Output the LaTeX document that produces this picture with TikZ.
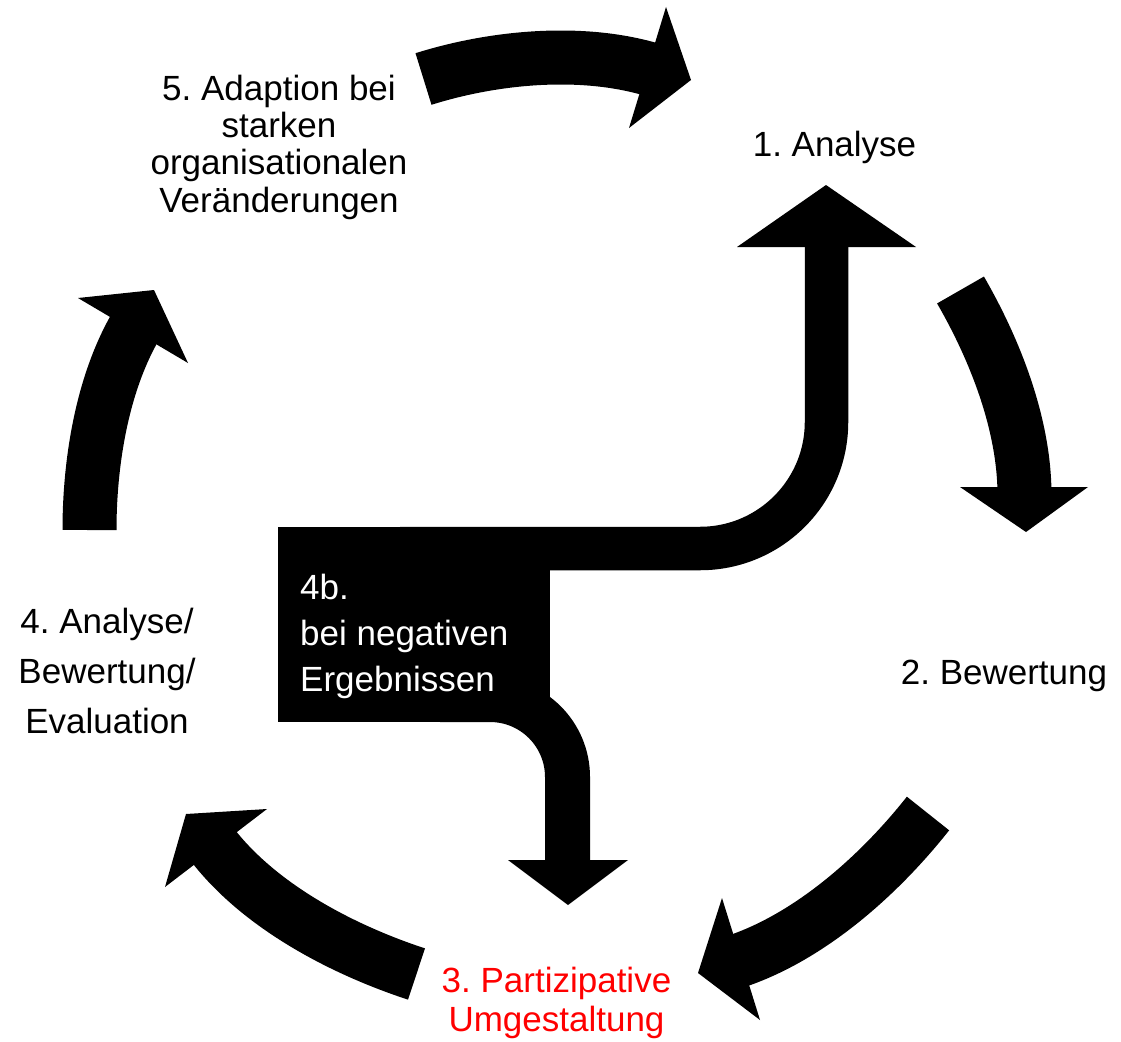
\documentclass[tikz,border=0pt]{standalone}
\usepackage{fontspec}
\setmainfont{Liberation Sans}
\frenchspacing
\begin{document}
\begin{tikzpicture}[x=1pt,y=-1pt,
    lbl/.style={align=center,inner sep=0pt},
    body/.style={line width=54pt},
    band/.style={line width=43.5pt},
    head/.style={fill=black}]
      \useasboundingbox (0,0) rectangle (1121,1041);
      \draw
        (834.5,147) node[lbl,font=\fontsize{35}{42}\selectfont] (1){1. Analyse}
        (1004,676) node[lbl,font=\fontsize{35}{42}\selectfont] (2){2. Bewertung}
        (556.5,1003) node[lbl,text=red,font=\fontsize{35}{39.5}\selectfont] (3){3. Partizipative\\Umgestaltung}
        (107,670.5) node[lbl,font=\fontsize{35}{50}\selectfont] (4){4. Analyse/\\Bewertung/\\Evaluation}
        (279,147) node[lbl,font=\fontsize{35}{37.3}\selectfont] (5){5. Adaption bei\\starken\\organisationalen\\Veränderungen};
      % cycle arrows
      \begin{scope}[-]
        \coordinate (s1) at (423.5,79);
        \coordinate (e1) at (654.6,70.5);
        \coordinate (s2) at (960.5,290);
        \coordinate (e2) at (1024.5,495);
        \coordinate (s3) at (928,813.5);
        \coordinate (e3) at (734.4,962);
        \coordinate (s4) at (416.5,974);
        \coordinate (e4) at (210.7,842.6);
        \coordinate (s5) at (89.5,530);
        \coordinate (e5) at (136.6,324.6);
        \draw[body] (s1) .. controls (495,56.5) and (583.6,48.5) .. (e1);
        \fill[head] (666,7) -- (691,80) -- (629,128) -- cycle;
        \draw[body] (s2) .. controls (995.5,350.6) and (1024.5,425) .. (e2);
        \fill[head] (960,487) -- (1026,532) -- (1088,487) -- cycle;
        \draw[body] (s3) .. controls (879,875.5) and (809.4,937.5) .. (e3);
        \fill[head] (722,898) -- (698,973) -- (760,1020) -- cycle;
        \draw[body] (s4) .. controls (341.5,949.4) and (258.2,905.6) .. (e4);
        \fill[head] (267,809) -- (186,814) -- (165,887) -- cycle;
        \draw[body] (s5) .. controls (89.5,462) and (102.1,383.1) .. (e5);
        \fill[head] (78,298) -- (154,290) -- (188,363) -- cycle;
      \end{scope}
      % 4b box with its two bent arrows
      \fill (278,527) rectangle (550,722);
      \draw[band] (400,548.5) -- (700,548.5) arc[start angle=90,end angle=0,radius=126.5] -- (826.5,240);
      \fill[head] (737,247) -- (826,185) -- (916,247) -- cycle;
      \draw[line width=45pt] (440,699.5) -- (490,699.5) arc[start angle=-90,end angle=0,radius=77.5] -- (567.5,866);
      \fill[head] (508,860) -- (568,905) -- (628,860) -- cycle;
      \node[lbl,text=white,anchor=north west,align=left,font=\fontsize{35}{46}\selectfont] (4b) at (300,574) {4b.\\bei negativen\\Ergebnissen};
    \end{tikzpicture}
\end{document}
